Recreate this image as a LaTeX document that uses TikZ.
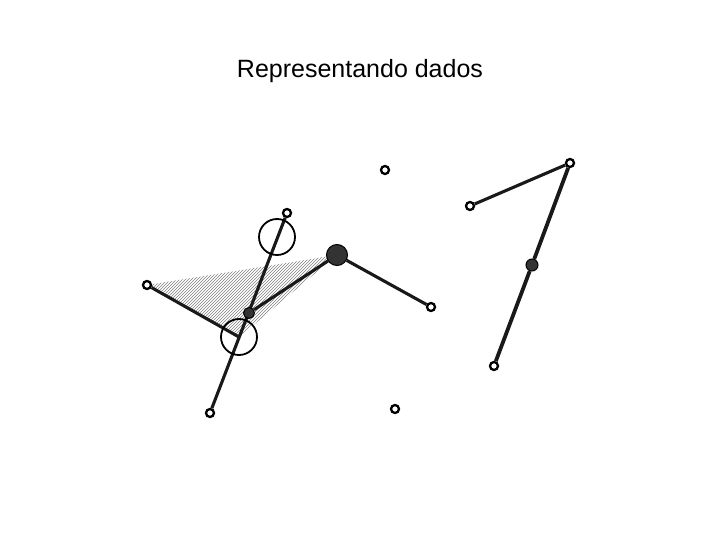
\documentclass[tikz,border=0pt]{standalone}
\usepackage{fontspec}
\setmainfont{Liberation Sans}
\usetikzlibrary{patterns, backgrounds}
\definecolor{dotGray}{gray}{0.2}
\definecolor{hatchGray}{gray}{0.5}

\begin{document}
\begin{tikzpicture}[x=1pt, y=-1pt,
    pt/.style={circle, draw, line width=2.3pt, fill=white, inner sep=0pt, minimum size=8pt},
    joint/.style={circle, draw, fill=dotGray, line width=1pt, inner sep=0pt, minimum size=11pt},
    hub/.style={circle, draw, fill=dotGray, line width=1pt, inner sep=0pt, minimum size=21pt},
    ring/.style={circle, draw, line width=1.8pt, inner sep=0pt, minimum size=36pt},
    bar/.style={line width=3.1pt, black!90}]
    \useasboundingbox (0,0) rectangle (720,540);
    \node[font=\fontsize{25}{30}\selectfont] (title) at (360,71) {Representando dados};

    % left figure
    \node[pt] (p1) at (147,285) {};
    \node[pt] (p2) at (431,307) {};
    \node[pt] (top) at (287,213) {};
    \node[pt] (bot) at (210,413) {};
    \node[joint] (j) at (249,313) {};
    \node[hub] (h) at (337,255) {};
    \node[ring] (c1) at (277,237) {};
    \node[ring] (c2) at (239,337) {};

    % loose points
    \node[pt] (q1) at (385,170) {};
    \node[pt] (q2) at (395,409) {};

    % right figure
    \node[pt] (r1) at (470,206) {};
    \node[pt] (r2) at (570,163) {};
    \node[pt] (r3) at (494,366) {};
    \node[joint, minimum size=12pt] (m) at (532,265) {};

    \begin{scope}[on background layer]
        \fill[pattern=north east lines, pattern color=hatchGray] (p1.center) -- (h.center) -- (c2.center) -- cycle;
        \draw[bar] (p1) -- (c2.center);
        \draw[bar] (top) -- (bot);
        \draw[bar] (j) -- (h);
        \draw[bar] (h) -- (p2);
        \draw[bar] (r1) -- (r2);
        \draw[bar, line width=3.8pt] (r2) -- (m);
        \draw[bar, line width=3.8pt] (m) -- (r3);
    \end{scope}
\end{tikzpicture}
\end{document}
